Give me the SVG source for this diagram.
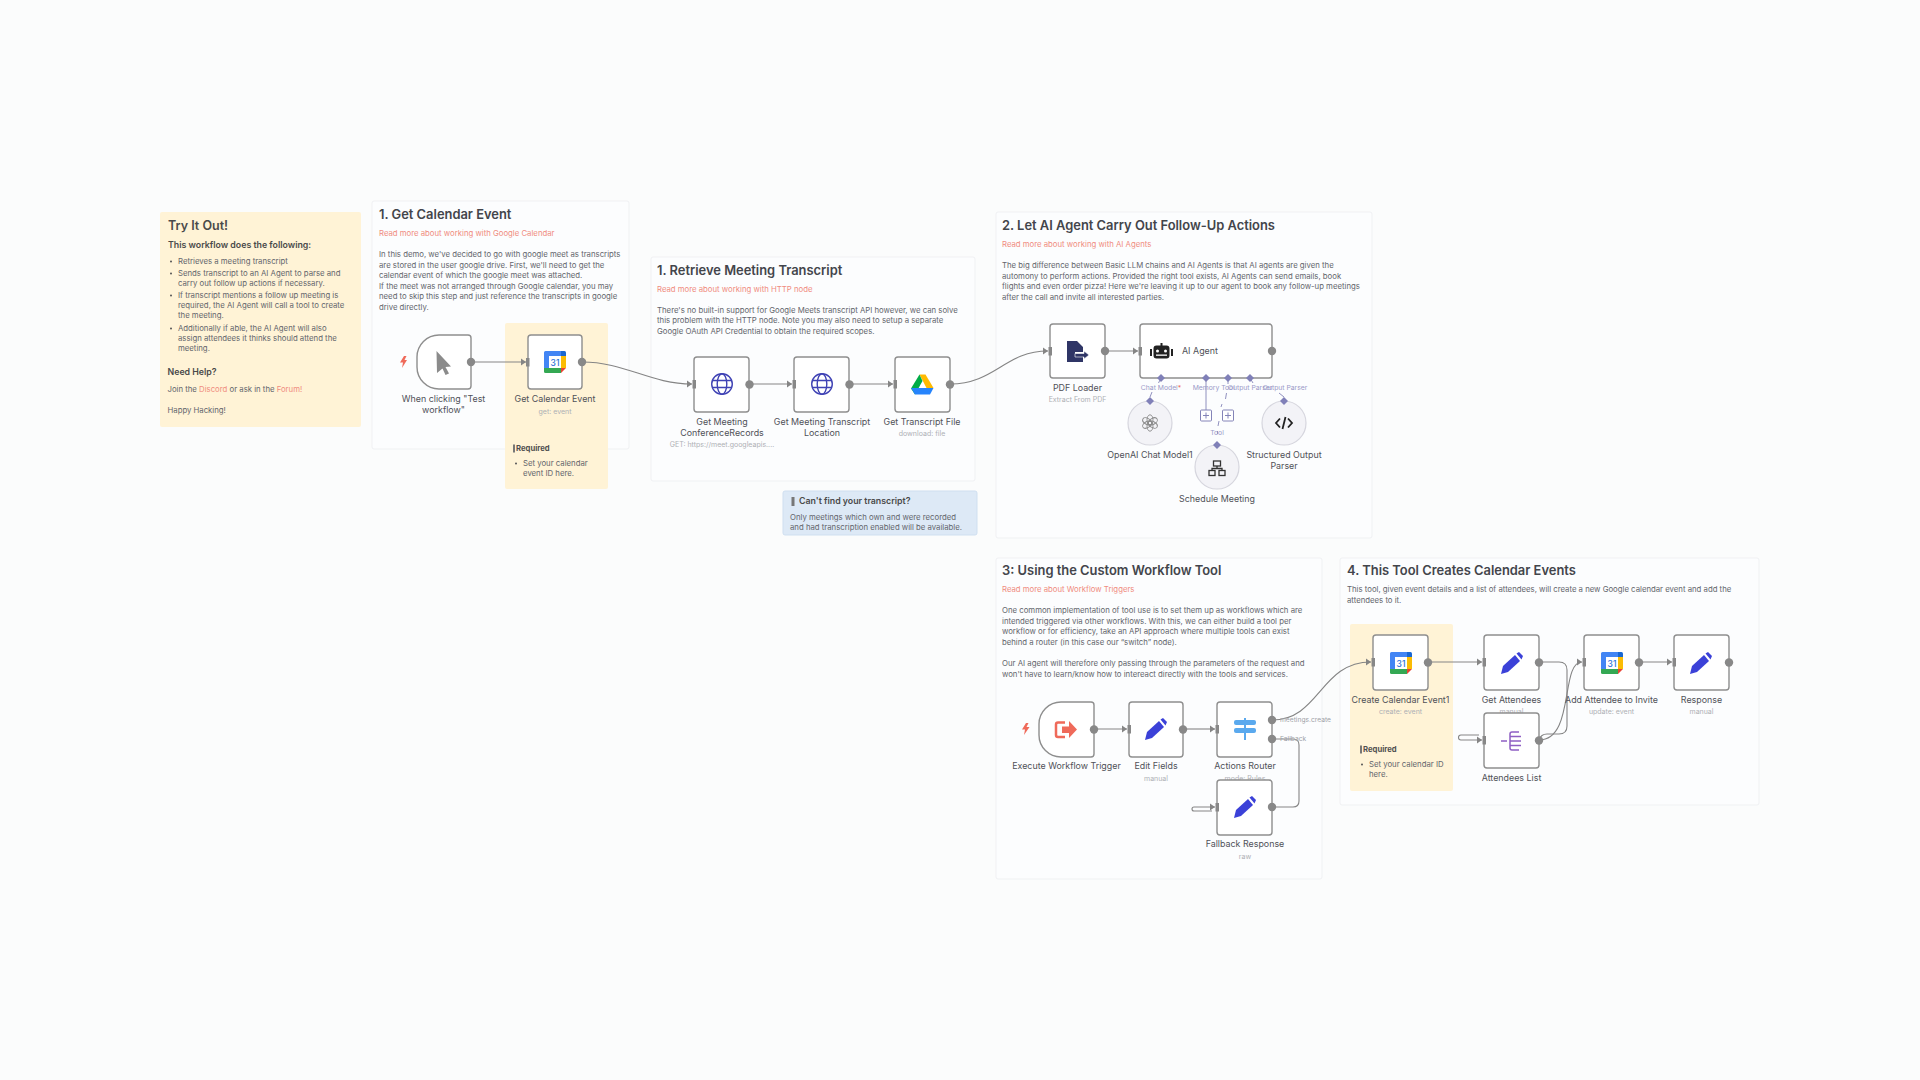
<svg xmlns="http://www.w3.org/2000/svg" width="1920" height="1080" viewBox="0 0 1920 1080">
<style>
text{font-family:Inter,"Noto Sans","Liberation Sans",sans-serif}
.sec{fill:#fcfdfe;stroke:#f0f1f3;stroke-width:1}
.y{fill:#fff3d6}
.t{font-size:12.9px;font-weight:600;fill:#43454b}
.b{font-size:7.78px;fill:#63656c}
.a{font-size:7.78px;fill:#f08c80}
.h{font-size:8.8px;font-weight:600;fill:#4a4a4a}
.r{font-size:7.7px;font-weight:700;fill:#4f4f4f}
.n{fill:#fff;stroke:#8e8e8e;stroke-width:1.4}
.l{font-size:8.9px;fill:#505158;text-anchor:middle}
.s{font-size:7px;fill:#aeb0b5;text-anchor:middle}
.e{fill:none;stroke:#858585;stroke-width:1.1}
.o{fill:#888}
.p{font-size:6.8px;fill:#9a9ac8;text-anchor:middle}
.m{fill:none;stroke:#8484b8;stroke-width:.9}
.d{fill:#8080b8}
.c{fill:#f3f3f7;stroke:#d6d6de;stroke-width:1.2}
</style>
<defs>
<marker id="arr" markerWidth="6" markerHeight="9" refX="5" refY="4.5" orient="auto" markerUnits="userSpaceOnUse"><path d="M0 1L5 4.500L0 8z" fill="#858585"/></marker>
<symbol id="cal" viewBox="0 0 22 22" overflow="visible">
<path d="M1.500 0H20v5H5v12H0V1.500A1.500 1.500 0 0 1 1.500 0z" fill="#4285f4"/><path d="M17 0h3.500A1.500 1.500 0 0 1 22 1.500V5h-5z" fill="#1967d2"/><path d="M17 5h5v12h-5z" fill="#fbbc04"/><path d="M0 17h17v5H1.500A1.500 1.500 0 0 1 0 20.500z" fill="#34a853"/><path d="M17 17h5l-5 5z" fill="#ea4335"/><rect x="5" y="5" width="12" height="12" fill="#fff"/>
<text x="11" y="14.500" font-size="8.500" font-weight="500" fill="#2a6fd6" text-anchor="middle">31</text></symbol>
<symbol id="pen" viewBox="0 0 22 22" overflow="visible"><path d="M0 22L2 14L14 3L19 9L7 20z" fill="#3b41d8"/><path d="M15.500 1.500L18 0L22 4L20.500 7.500z" fill="#3b41d8"/></symbol>
<symbol id="globe" viewBox="0 0 22 22" overflow="visible"><g fill="none" stroke="#3f42b4" stroke-width="1.400"><circle cx="11" cy="11" r="10.300"/><ellipse cx="11" cy="11" rx="4.800" ry="10.300"/><path d="M1.500 7.500H20.500M1.500 14.500H20.500"/></g></symbol>
<ellipse id="petal" cx="0" cy="-3.200" rx="3" ry="5" fill="none" stroke="#8a8a8a" stroke-width=".9"/>
</defs>
<rect width="1920" height="1080" fill="#fbfcfc"/>

<g id="sticky-try">
<rect x="160" y="212" width="201" height="215" rx="2" class="y"/>
<text x="168" y="230" font-size="12.500" font-weight="600" fill="#4a4a4a">Try It Out!</text>
<text x="168" y="248" class="h">This workflow does the following:</text>
<circle cx="171" cy="261.500" r="1" fill="#555"/><text x="178" y="264" class="b">Retrieves a meeting transcript</text>
<circle cx="171" cy="273.500" r="1" fill="#555"/><text x="178" y="276" class="b">Sends transcript to an AI Agent to parse and</text><text x="178" y="286" class="b">carry out follow up actions if necessary.</text>
<circle cx="171" cy="295.500" r="1" fill="#555"/><text x="178" y="298" class="b">If transcript mentions a follow up meeting is</text><text x="178" y="308" class="b">required, the AI Agent will call a tool to create</text><text x="178" y="318" class="b">the meeting.</text>
<circle cx="171" cy="328.500" r="1" fill="#555"/><text x="178" y="331" class="b">Additionally if able, the AI Agent will also</text><text x="178" y="341" class="b">assign attendees it thinks should attend the</text><text x="178" y="351" class="b">meeting.</text>
<text x="167.500" y="375" class="h">Need Help?</text>
<text x="167.500" y="392" class="b">Join the <tspan fill="#f08c80">Discord</tspan> or ask in the <tspan fill="#f08c80">Forum!</tspan></text>
<text x="167.500" y="413" class="b">Happy Hacking!</text>
</g>

<g id="section-1">
<rect x="372" y="201" width="257" height="248" rx="2" class="sec"/>
<text x="379" y="219" class="t">1. Get Calendar Event</text>
<text x="379" y="236" class="a">Read more about working with Google Calendar</text>
<text x="379" y="257" class="b">In this demo, we've decided to go with google meet as transcripts</text>
<text x="379" y="268" class="b">are stored in the user google drive. First, we'll need to get the</text>
<text x="379" y="278" class="b">calendar event of which the google meet was attached.</text>
<text x="379" y="289" class="b">If the meet was not arranged through Google calendar, you may</text>
<text x="379" y="299" class="b">need to skip this step and just reference the transcripts in google</text>
<text x="379" y="310" class="b">drive directly.</text>
</g>
<g id="section-retrieve">
<rect x="651" y="257" width="324" height="224" rx="2" class="sec"/>
<text x="657" y="275" class="t">1. Retrieve Meeting Transcript</text>
<text x="657" y="292" class="a">Read more about working with HTTP node</text>
<text x="657" y="313" class="b">There's no built-in support for Google Meets transcript API however, we can solve</text>
<text x="657" y="323" class="b">this problem with the HTTP node. Note you may also need to setup a separate</text>
<text x="657" y="334" class="b">Google OAuth API Credential to obtain the required scopes.</text>
</g>
<g id="section-2">
<rect x="996" y="212" width="376" height="326" rx="2" class="sec"/>
<text x="1002" y="230" class="t">2. Let AI Agent Carry Out Follow-Up Actions</text>
<text x="1002" y="247" class="a">Read more about working with AI Agents</text>
<text x="1002" y="268" class="b">The big difference between Basic LLM chains and AI Agents is that AI agents are given the</text>
<text x="1002" y="279" class="b">automony to perform actions. Provided the right tool exists, AI Agents can send emails, book</text>
<text x="1002" y="289" class="b">flights and even order pizza! Here we're leaving it up to our agent to book any follow-up meetings</text>
<text x="1002" y="300" class="b">after the call and invite all interested parties.</text>
</g>
<g id="section-3">
<rect x="996" y="558" width="326" height="321" rx="2" class="sec"/>
<text x="1002" y="575" class="t">3: Using the Custom Workflow Tool</text>
<text x="1002" y="592" class="a">Read more about Workflow Triggers</text>
<text x="1002" y="613" class="b">One common implementation of tool use is to set them up as workflows which are</text>
<text x="1002" y="624" class="b">intended triggered via other workflows. With this, we can either build a tool per</text>
<text x="1002" y="634" class="b">workflow or for efficiency, take an API approach where multiple tools can exist</text>
<text x="1002" y="645" class="b">behind a router (in this case our “switch” node).</text>
<text x="1002" y="666" class="b">Our AI agent will therefore only passing through the parameters of the request and</text>
<text x="1002" y="677" class="b">won't have to learn/know how to intereact directly with the tools and services.</text>
</g>
<g id="section-4">
<rect x="1340" y="558" width="419" height="247" rx="2" class="sec"/>
<text x="1347" y="575" class="t">4. This Tool Creates Calendar Events</text>
<text x="1347" y="592" class="b">This tool, given event details and a list of attendees, will create a new Google calendar event and add the</text>
<text x="1347" y="603" class="b">attendees to it.</text>
</g>
<g id="sticky-required-1">
<rect x="505" y="323" width="103" height="166" rx="2" class="y"/>
<rect x="513" y="444.500" width="2" height="8" fill="#777"/><text x="516" y="451" class="r">Required</text>
<circle cx="516" cy="463.500" r="1" fill="#555"/><text x="523" y="466" class="b">Set your calendar</text><text x="523" y="476" class="b">event ID here.</text>
</g>
<g id="sticky-required-2">
<rect x="1350" y="624" width="103" height="167" rx="2" class="y"/>
<rect x="1360" y="745.500" width="2" height="8" fill="#777"/><text x="1363" y="752" class="r">Required</text>
<circle cx="1362" cy="764.500" r="1" fill="#555"/><text x="1369" y="767" class="b">Set your calendar ID</text><text x="1369" y="777" class="b">here.</text>
</g>
<g id="note-transcript">
<rect x="783" y="491" width="194" height="44" rx="2" fill="#dde9f6" stroke="#cfdff0"/>
<rect x="791.500" y="497" width="3" height="9" fill="#777"/>
<text x="799" y="504" class="h">Can't find your transcript?</text>
<text x="790" y="520" class="b">Only meetings which own and were recorded</text>
<text x="790" y="530" class="b">and had transcription enabled will be available.</text>
</g>

<g id="connectors">
<path class="e" marker-end="url(#arr)" d="M471 362H526"/>
<path class="e" marker-end="url(#arr)" d="M582 362C625 362 650 384 692 384"/>
<path class="e" marker-end="url(#arr)" d="M750 384H792"/>
<path class="e" marker-end="url(#arr)" d="M850 384H893"/>
<path class="e" marker-end="url(#arr)" d="M950 384C995 384 1005 351 1048 351"/>
<path class="e" marker-end="url(#arr)" d="M1105 351H1138"/>
<path class="e" marker-end="url(#arr)" d="M1094 729H1127"/>
<path class="e" marker-end="url(#arr)" d="M1183 729H1215"/>
<path class="e" marker-end="url(#arr)" d="M1272 720C1320 720 1320 662 1371 662"/>
<path class="e" d="M1272 739H1293Q1299 739 1299 745V801Q1299 807 1293 807H1272"/>
<path class="e" marker-end="url(#arr)" d="M1212 811H1194a2 2 0 0 1 0 -4H1215"/>
<path class="e" marker-end="url(#arr)" d="M1428 662H1482"/>
<path class="e" d="M1539 662H1559Q1567 662 1567 670V726Q1567 734 1559 734H1547Q1541 734 1539 740"/>
<path class="e" marker-end="url(#arr)" d="M1539 740C1575 740 1560 662 1582 662"/>
<path class="e" marker-end="url(#arr)" d="M1479 735H1461a2.500 2.500 0 0 0 0 5H1482"/>
<path class="e" marker-end="url(#arr)" d="M1639 662H1672"/>
<path class="m" d="M1161 378L1158.500 383M1152 392L1150 397"/>
<path class="m" d="M1206 378V410"/>
<path class="m" d="M1228 378V384M1226.500 393L1225.500 399M1222 404L1221 407M1219 421L1218 426M1217.500 431V434"/>
<path class="m" d="M1250 378L1253 383M1279 393L1284 397"/>
</g>

<g id="trigger-manual">
<path d="M404 356L400 362.500H403L402 368L407 360H404.500L406.500 356z" fill="#ef6a5a"/>
<path class="n" d="M439 335H468a3 3 0 0 1 3 3V386a3 3 0 0 1 -3 3H439a22 22 0 0 1 -22 -22V357a22 22 0 0 1 22 -22z"/>
<path d="M436.500 351L451 366.500L445.500 367L449 373.500L445.500 375L442.500 368.500L437 373z" fill="#8b8b8b"/>
<circle class="o" cx="471" cy="362" r="4.200"/>
<text class="l" x="443.500" y="402">When clicking "Test</text><text class="l" x="443.500" y="413">workflow"</text>
</g>
<g id="get-calendar-event">
<rect class="n" x="528" y="335" width="54" height="54" rx="3"/><rect class="o" x="526" y="358" width="3.500" height="8.500"/>
<use href="#cal" x="544" y="351" width="22" height="22"/><circle class="o" cx="582" cy="362" r="4.200"/>
<text class="l" x="555" y="402">Get Calendar Event</text><text class="s" x="555" y="414">get: event</text>
</g>
<g id="get-conference-records">
<rect class="n" x="694" y="357" width="55" height="55" rx="3"/><rect class="o" x="692.500" y="380" width="3.500" height="8.500"/>
<use href="#globe" x="711" y="373" width="22" height="22"/><circle class="o" cx="749.500" cy="384.500" r="4.200"/>
<text class="l" x="722" y="425">Get Meeting</text><text class="l" x="722" y="436">ConferenceRecords</text><text class="s" x="722" y="447">GET: https://meet.googleapis....</text>
</g>
<g id="get-transcript-location">
<rect class="n" x="794" y="357" width="55" height="55" rx="3"/><rect class="o" x="792.500" y="380" width="3.500" height="8.500"/>
<use href="#globe" x="811" y="373" width="22" height="22"/><circle class="o" cx="849.500" cy="384.500" r="4.200"/>
<text class="l" x="822" y="425">Get Meeting Transcript</text><text class="l" x="822" y="436">Location</text>
</g>
<g id="get-transcript-file">
<rect class="n" x="895" y="357" width="55" height="55" rx="3"/><rect class="o" x="893.500" y="380" width="3.500" height="8.500"/>
<path d="M919.500 374.500H925.500L933.500 388H926.500z" fill="#ffba00"/>
<path d="M919.500 374.500L911 388.500L915 394.500L922.500 381z" fill="#00ac47"/>
<path d="M911 388H933.500L930 394.500H915z" fill="#2684fc"/>
<circle class="o" cx="950" cy="384.500" r="4.200"/>
<text class="l" x="922" y="425">Get Transcript File</text><text class="s" x="922" y="436">download: file</text>
</g>
<g id="pdf-loader">
<rect class="n" x="1050" y="324" width="55" height="54" rx="3"/><rect class="o" x="1048.500" y="347" width="3.500" height="8.500"/>
<path d="M1067 341H1077L1083 347V352H1075V356H1083V362H1067z" fill="#2f3566"/><path d="M1075 353.500H1084V351L1089 355L1084 359V357H1075z" fill="#2f3566" stroke="#fff" stroke-width=".6"/>
<circle class="o" cx="1105" cy="351" r="4.200"/>
<text class="l" x="1077.500" y="391">PDF Loader</text><text class="s" x="1077.500" y="402">Extract From PDF</text>
</g>
<g id="ai-agent">
<rect class="n" x="1140" y="324" width="132" height="54" rx="3"/><rect class="o" x="1138.500" y="347" width="3.500" height="8.500"/>
<path d="M1160.500 343h2v2.500h4a3 3 0 0 1 3 3v7a3 3 0 0 1 -3 3h-10a3 3 0 0 1 -3 -3v-7a3 3 0 0 1 3 -3h4z" fill="#222"/><rect x="1150" y="349" width="2" height="7" fill="#222"/><rect x="1171" y="349" width="2" height="7" fill="#222"/><circle cx="1157.500" cy="351" r="1.500" fill="#fff"/><circle cx="1165.500" cy="351" r="1.500" fill="#fff"/><rect x="1156" y="354.500" width="11" height="1.300" fill="#fff"/>
<text x="1182" y="354" font-size="8.900" fill="#505158">AI Agent</text>
<circle class="o" cx="1272" cy="351" r="4.200"/>
<path class="d" d="M1161 374l4 4l-4 4l-4-4zM1206 374l4 4l-4 4l-4-4zM1228 374l4 4l-4 4l-4-4zM1250 374l4 4l-4 4l-4-4z"/>
<text class="p" x="1161" y="390">Chat Model<tspan fill="#ef6a5a">*</tspan></text><text class="p" x="1206" y="390">Memory</text><text class="p" x="1228" y="390">Tool</text><text class="p" x="1250" y="390">Output Parser</text>
<g fill="#fff" stroke="#8484b8" stroke-width="1"><rect x="1200.500" y="410" width="11" height="11" rx="1"/><rect x="1222.500" y="410" width="11" height="11" rx="1"/></g>
<path d="M1203 415.500h6M1206 412.500v6M1225 415.500h6M1228 412.500v6" stroke="#8484b8" fill="none"/>
</g>
<g id="openai-chat-model">
<circle class="c" cx="1150" cy="423" r="22"/>
<g transform="translate(1150 423)"><use href="#petal"/><use href="#petal" transform="rotate(60)"/><use href="#petal" transform="rotate(120)"/><use href="#petal" transform="rotate(180)"/><use href="#petal" transform="rotate(240)"/><use href="#petal" transform="rotate(300)"/></g>
<path class="d" d="M1150 397l4 4l-4 4l-4-4z"/>
<text class="l" x="1150" y="458">OpenAI Chat Model1</text>
</g>
<g id="schedule-meeting">
<circle class="c" cx="1217" cy="467" r="22"/>
<g fill="none" stroke="#333" stroke-width="1.300"><rect x="1213.500" y="461" width="7" height="5"/><rect x="1209" y="470.500" width="6" height="5"/><rect x="1219" y="470.500" width="6" height="5"/><path d="M1217 466v2.500h-5v2M1217 468.500h5v2"/></g>
<path class="d" d="M1217 441l4 4l-4 4l-4-4z"/>
<text class="p" x="1217" y="435">Tool</text>
<text class="l" x="1217" y="502">Schedule Meeting</text>
</g>
<g id="structured-output-parser">
<circle class="c" cx="1284" cy="423" r="22"/>
<path d="M1280 418.500L1276 423L1280 427.500M1288 418.500L1292 423L1288 427.500M1285.500 417L1282.500 429" fill="none" stroke="#222" stroke-width="1.800"/>
<path class="d" d="M1284 397l4 4l-4 4l-4-4z"/>
<text class="p" x="1285" y="390">Output Parser</text>
<text class="l" x="1284" y="458">Structured Output</text><text class="l" x="1284" y="469">Parser</text>
</g>
<g id="execute-workflow-trigger">
<path d="M1026 723L1022 729.500H1025L1024 735L1029.500 727H1026.500L1028.500 723z" fill="#ef6a5a"/>
<path class="n" d="M1061 702H1091a3 3 0 0 1 3 3V754a3 3 0 0 1 -3 3H1061a22 22 0 0 1 -22 -22V724a22 22 0 0 1 22 -22z"/>
<path d="M1065 722.500H1058a2 2 0 0 0 -2 2V735a2 2 0 0 0 2 2H1065" fill="none" stroke="#ef6a5a" stroke-width="2.500"/><path d="M1062 726.500H1069V721L1077 729.500L1069 738V733H1062z" fill="#ef6a5a"/>
<circle class="o" cx="1094" cy="729.500" r="4.200"/>
<text class="l" x="1066.500" y="769">Execute Workflow Trigger</text>
</g>
<g id="edit-fields">
<rect class="n" x="1129" y="702" width="54" height="55" rx="3"/><rect class="o" x="1127.500" y="725" width="3.500" height="8.500"/>
<use href="#pen" x="1145" y="718" width="22" height="22"/><circle class="o" cx="1183" cy="729.500" r="4.200"/>
<text class="l" x="1156" y="769">Edit Fields</text><text class="s" x="1156" y="781">manual</text>
</g>
<g id="actions-router">
<text class="s" x="1245" y="781">mode: Rules</text>
<rect class="n" x="1217" y="702" width="55" height="55" rx="3"/><rect class="o" x="1215.500" y="725" width="3.500" height="8.500"/>
<g fill="#5aa9ee"><rect x="1244" y="718" width="2" height="22"/><rect x="1234" y="720" width="22" height="5" rx="2"/><rect x="1234" y="728" width="22" height="5" rx="2"/></g>
<circle class="o" cx="1272" cy="720" r="4.200"/><circle class="o" cx="1272" cy="739" r="4.200"/>
<text x="1280" y="722" font-size="6.700" fill="#a0a2a8">meetings.create</text><text x="1280" y="741" font-size="6.700" fill="#a0a2a8">Fallback</text>
<text class="l" x="1245" y="769">Actions Router</text>
</g>
<g id="fallback-response">
<rect class="n" x="1217" y="780" width="55" height="55" rx="3"/><rect class="o" x="1215.500" y="803" width="3.500" height="8.500"/>
<use href="#pen" x="1234" y="796" width="22" height="22"/><circle class="o" cx="1272" cy="807" r="4.200"/>
<text class="l" x="1245" y="847">Fallback Response</text><text class="s" x="1245" y="859">raw</text>
</g>
<g id="create-calendar-event">
<rect class="n" x="1373" y="635" width="55" height="55" rx="3"/><rect class="o" x="1371.500" y="658" width="3.500" height="8.500"/>
<use href="#cal" x="1390" y="652" width="22" height="22"/><circle class="o" cx="1428" cy="662.500" r="4.200"/>
<text class="l" x="1400.500" y="703">Create Calendar Event1</text><text class="s" x="1400.500" y="714">create: event</text>
</g>
<g id="get-attendees">
<rect class="n" x="1484" y="635" width="55" height="55" rx="3"/><rect class="o" x="1482.500" y="658" width="3.500" height="8.500"/>
<use href="#pen" x="1501" y="652" width="22" height="22"/><circle class="o" cx="1539" cy="662.500" r="4.200"/>
<text class="l" x="1511.500" y="703">Get Attendees</text><text class="s" x="1511.500" y="714">manual</text>
</g>
<g id="attendees-list">
<rect class="n" x="1484" y="713" width="55" height="55" rx="3"/><rect class="o" x="1482.500" y="736" width="3.500" height="8.500"/>
<path d="M1501 741H1507M1519 732H1512a2 2 0 0 0 -2 2V748a2 2 0 0 0 2 2H1519M1510 736.500H1521M1510 741H1521M1510 745.500H1521" fill="none" stroke="#8f5fc4" stroke-width="1.500"/>
<circle class="o" cx="1539" cy="740.500" r="4.200"/>
<text class="l" x="1511.500" y="781">Attendees List</text>
</g>
<g id="add-attendee">
<rect class="n" x="1584" y="635" width="55" height="55" rx="3"/><rect class="o" x="1582.500" y="658" width="3.500" height="8.500"/>
<use href="#cal" x="1601" y="652" width="22" height="22"/><circle class="o" cx="1639" cy="662.500" r="4.200"/>
<text class="l" x="1611.500" y="703">Add Attendee to Invite</text><text class="s" x="1611.500" y="714">update: event</text>
</g>
<g id="response">
<rect class="n" x="1674" y="635" width="55" height="55" rx="3"/><rect class="o" x="1672.500" y="658" width="3.500" height="8.500"/>
<use href="#pen" x="1690" y="652" width="22" height="22"/><circle class="o" cx="1729" cy="662.500" r="4.200"/>
<text class="l" x="1701.500" y="703">Response</text><text class="s" x="1701.500" y="714">manual</text>
</g>
</svg>
